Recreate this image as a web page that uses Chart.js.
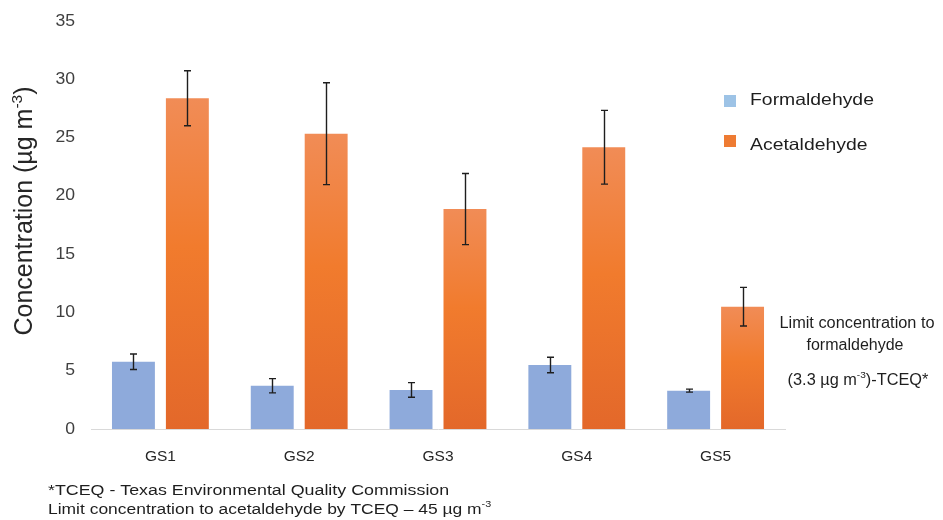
<!DOCTYPE html>
<html>
<head>
<meta charset="utf-8">
<script src="https://cdn.jsdelivr.net/npm/chart.js@4.4.1/dist/chart.umd.min.js"></script>
<style>
  html, body { margin: 0; padding: 0; background: #ffffff; }
  #wrap { width: 943px; height: 520px; position: relative; }
</style>
</head>
<body>
<div id="wrap"><canvas id="c" width="943" height="520"></canvas></div>
<script>
// ---- data ----
const categories = ['GS1', 'GS2', 'GS3', 'GS4', 'GS5'];
const formaldehyde = [5.77, 3.71, 3.35, 5.49, 3.29];
const formaldehydeErr = [0.67, 0.61, 0.63, 0.67, 0.13];
const acetaldehyde = [28.37, 25.33, 18.87, 24.17, 10.49];
const acetaldehydeErr = [2.36, 4.37, 3.05, 3.16, 1.66];
const yMin = 0, yMax = 35, yStep = 5;
const seriesNames = ['Formaldehyde', 'Acetaldehyde'];

const FONT = '"Liberation Sans", Arial, Helvetica, sans-serif';

function drawRich(ctx, parts, x, y, size, align, sx, color, rotate) {
  ctx.save();
  ctx.fillStyle = color;
  ctx.textBaseline = 'alphabetic';
  ctx.textAlign = 'left';
  const f = s => s + 'px ' + FONT;
  let w = 0;
  const ws = parts.map(([t, sup]) => {
    ctx.font = f(sup ? size * 0.62 : size);
    const m = ctx.measureText(t).width;
    w += m;
    return m;
  });
  ctx.translate(x, y);
  if (rotate) ctx.rotate(rotate);
  ctx.scale(sx, 1);
  let cx = align === 'center' ? -w / 2 : (align === 'right' ? -w : 0);
  parts.forEach(([t, sup], i) => {
    ctx.font = f(sup ? size * 0.62 : size);
    ctx.fillText(t, cx, sup ? -size * 0.42 : 0);
    cx += ws[i];
  });
  ctx.restore();
}

function acetGradient(c) {
  const chart = c.chart;
  const ys = chart.scales && chart.scales.y;
  if (!ys || c.type !== 'data' || !chart.chartArea) return '#ef7b30';
  const top = ys.getPixelForValue(c.raw);
  const bot = ys.getPixelForValue(0);
  if (!isFinite(top) || !isFinite(bot) || top === bot) return '#ef7b30';
  const g = chart.ctx.createLinearGradient(0, top, 0, bot);
  g.addColorStop(0, '#f18c56');
  g.addColorStop(0.45, '#f17b2d');
  g.addColorStop(1, '#e3682a');
  return g;
}

const errorBars = {
  id: 'errorBars',
  afterDatasetsDraw(chart) {
    const ctx = chart.ctx;
    const ys = chart.scales.y;
    const errs = [formaldehydeErr, acetaldehydeErr];
    ctx.save();
    ctx.strokeStyle = '#1e1e1e';
    ctx.lineWidth = 1.4;
    chart.data.datasets.forEach((ds, di) => {
      const meta = chart.getDatasetMeta(di);
      meta.data.forEach((el, i) => {
        const v = ds.data[i], e = errs[di][i];
        const x = Math.round(el.x) + 0.5;
        const y1 = ys.getPixelForValue(v + e);
        const y2 = ys.getPixelForValue(v - e);
        ctx.beginPath();
        ctx.moveTo(x, y1); ctx.lineTo(x, y2);
        ctx.moveTo(x - 3.5, y1); ctx.lineTo(x + 3.5, y1);
        ctx.moveTo(x - 3.5, y2); ctx.lineTo(x + 3.5, y2);
        ctx.stroke();
      });
    });
    ctx.restore();
  }
};

const texts = {
  id: 'texts',
  afterDraw(chart) {
    const ctx = chart.ctx;
    const ys = chart.scales.y, xs = chart.scales.x;
    // y tick labels
    ys.ticks.forEach(t => {
      const py = ys.getPixelForValue(t.value);
      drawRich(ctx, [[String(t.value)]], 75, py + 4.5, 16, 'right', 1.1, '#404040');
    });
    // x tick labels
    categories.forEach((c, i) => {
      drawRich(ctx, [[c]], xs.getPixelForTick(i), 461, 15.5, 'center', 1.0, '#262626');
    });
    // y title
    drawRich(ctx, [['Concentration (µg m'], ['-3', true], [')']], 32, 211, 25, 'center', 1.0, '#262626', -Math.PI / 2);
    // legend
    const legCols = ['#9dc3e6', '#ee7b33'];
    ctx.fillStyle = legCols[0];
    ctx.fillRect(724, 95, 12, 12);
    ctx.fillStyle = legCols[1];
    ctx.fillRect(724, 135, 12, 12);
    drawRich(ctx, [[seriesNames[0]]], 750, 104.5, 16.5, 'left', 1.175, '#1e1e1e');
    drawRich(ctx, [[seriesNames[1]]], 750, 150, 16.5, 'left', 1.175, '#1e1e1e');
    // annotation on the right
    drawRich(ctx, [['Limit concentration to']], 857, 328, 16, 'center', 1.02, '#1e1e1e');
    drawRich(ctx, [['formaldehyde']], 855, 350, 16, 'center', 1.0, '#1e1e1e');
    drawRich(ctx, [['(3.3 µg m'], ['-3', true], [')-TCEQ*']], 858, 385, 16, 'center', 1.02, '#1e1e1e');
    // footnote
    drawRich(ctx, [['*TCEQ - Texas Environmental Quality Commission']], 48, 495, 15.5, 'left', 1.15, '#1e1e1e');
    drawRich(ctx, [['Limit concentration to acetaldehyde by TCEQ – 45 µg m'], ['-3', true]], 48, 513.5, 15.5, 'left', 1.125, '#1e1e1e');
  }
};

new Chart(document.getElementById('c'), {
  type: 'bar',
  data: {
    labels: categories,
    datasets: [
      {
        label: seriesNames[0],
        data: formaldehyde,
        backgroundColor: '#8eaadb',
        categoryPercentage: 0.777,
        barPercentage: 0.796
      },
      {
        label: seriesNames[1],
        data: acetaldehyde,
        backgroundColor: acetGradient,
        categoryPercentage: 0.777,
        barPercentage: 0.796
      }
    ]
  },
  options: {
    responsive: false,
    animation: false,
    layout: { padding: { top: 21, right: 158, bottom: 51, left: 0 } },
    plugins: { legend: { display: false }, tooltip: { enabled: false } },
    scales: {
      x: {
        ticks: { display: false },
        grid: { display: true, color: 'rgba(0,0,0,0)', drawTicks: false },
        border: { display: true, color: '#d9d9d9', width: 1 },
        afterFit(s) { s.height = 40; }
      },
      y: {
        min: yMin, max: yMax,
        ticks: { display: false, stepSize: yStep },
        grid: { display: false },
        border: { display: false },
        afterFit(s) { s.width = 91; }
      }
    }
  },
  plugins: [errorBars, texts]
});
</script>
</body>
</html>
